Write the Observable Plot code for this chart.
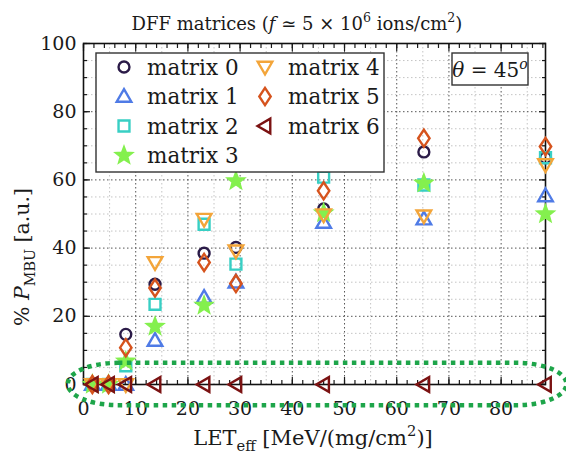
<!DOCTYPE html>
<html><head><meta charset="utf-8">
<script src="https://cdn.jsdelivr.net/npm/d3@7"></script>
<script src="https://cdn.jsdelivr.net/npm/@observablehq/plot@0.6"></script>
<style>body{margin:0;background:#fff}</style>
</head><body><div id="chart"></div>
<script>
// ---- data ----
const letValues = [1.7, 4.8, 8.1, 13.7, 23.1, 29.2, 46.0, 65.2, 88.5];
const matrixNames = ["matrix 0", "matrix 1", "matrix 2", "matrix 3", "matrix 4", "matrix 5", "matrix 6"];
const matrix0 = [0, 0, 14.7, 29.4, 38.5, 40.2, 51.5, 68.2, 66.5];
const matrix1 = [0, 0, 0, 12.9, 25.5, 30.0, 47.5, 48.5, 55.3];
const matrix2 = [0, 0, 5.5, 23.5, 47.0, 35.3, 60.8, 58.5, 66.5];
const matrix3 = [0, 0, 6.8, 17.0, 23.2, 59.7, 50.3, 59.0, 50.0];
const matrix4 = [0, 0, 0, 35.8, 48.5, 39.2, 49.8, 49.5, 64.5];
const matrix5 = [0, 0, 10.8, 28.3, 35.8, 29.6, 56.8, 72.2, 69.8];
const matrix6 = [0, 0, 0, 0, 0, 0, 0, 0, 0];
const xTicks = [0, 10, 20, 30, 40, 50, 60, 70, 80];
const yTicks = [0, 20, 40, 60, 80, 100];
const xMinorTicks = d3.range(0, 89, 2);
const yMinorTicks = d3.range(0, 101, 5);
const xMinorGrid = [5, 15, 25, 35, 45, 55, 65, 75, 85];
const yMinorGrid = yMinorTicks.filter(v => v % 20 !== 0);
const highlight = [{x1: -2.9, x2: 92.6, y1: -6.2, y2: 6.2}];
const thetaLabel = "45";

// ---- styles ----
const series = [matrix0, matrix1, matrix2, matrix3, matrix4, matrix5, matrix6];
const colors = ["#2b1b48", "#4f7be6", "#38cfc4", "#84f04e", "#f3a53a", "#d6531d", "#7b1212"];
const FONT = "DejaVu Serif";
const TXT = "#1a1a1a";

function poly(pts) {
  return {draw(ctx, size) {
    const s = Math.sqrt(size / Math.PI);
    ctx.moveTo(pts[0][0] * s, pts[0][1] * s);
    for (let k = 1; k < pts.length; ++k) ctx.lineTo(pts[k][0] * s, pts[k][1] * s);
    ctx.closePath();
  }};
}
const symCircle = {draw(ctx, size) { const s = Math.sqrt(size / Math.PI) * 0.88; ctx.moveTo(s, 0); ctx.arc(0, 0, s, 0, 2 * Math.PI); }};
const symUp = poly([[0, -1.2], [1.18, 0.85], [-1.18, 0.85]]);
const symSquare = poly([[-0.88, -0.88], [0.88, -0.88], [0.88, 0.88], [-0.88, 0.88]]);
const symStar = {draw(ctx, size) {
  const s = Math.sqrt(size / Math.PI) * 1.3, ri = s * 0.42;
  for (let k = 0; k < 10; ++k) {
    const a = -Math.PI / 2 + k * Math.PI / 5, rr = k % 2 ? ri : s;
    const px = rr * Math.cos(a), py = rr * Math.sin(a);
    k ? ctx.lineTo(px, py) : ctx.moveTo(px, py);
  }
  ctx.closePath();
}};
const symDown = poly([[0, 1.2], [1.18, -0.85], [-1.18, -0.85]]);
const symDiamond = poly([[0, -1.38], [0.92, 0], [0, 1.38], [-0.92, 0]]);
const symLeft = poly([[-1.2, 0], [0.85, -1.18], [0.85, 1.18]]);
const symbols = [symCircle, symUp, symSquare, symStar, symDown, symDiamond, symLeft];
const R = 6.2;
const SW = 2.4;

const dotMarks = series.map((vals, i) =>
  Plot.dot(letValues.map((x, j) => ({x, y: vals[j]})), {
    x: "x", y: "y", r: R, symbol: symbols[i], stroke: colors[i], strokeWidth: SW,
    fill: i === 3 ? colors[i] : "none"
  }));

const gridDash = "1.5,2.5";
const blank = () => "";
const plot = Plot.plot({
  width: 566, height: 453,
  marginLeft: 83, marginRight: 21, marginTop: 43, marginBottom: 69,
  x: {domain: [0, 88.5]},
  y: {domain: [0, 100]},
  style: {fontFamily: FONT, fontSize: "19px", color: TXT, background: "white"},
  marks: [
    Plot.gridX(xMinorGrid, {stroke: "#c4c4c4", strokeOpacity: 1, strokeDasharray: gridDash}),
    Plot.gridY(yMinorGrid, {stroke: "#c4c4c4", strokeOpacity: 1, strokeDasharray: gridDash}),
    Plot.gridX(xTicks, {stroke: "#555", strokeOpacity: 1, strokeDasharray: gridDash}),
    Plot.gridY(yTicks, {stroke: "#555", strokeOpacity: 1, strokeDasharray: gridDash}),
    Plot.axisX(xTicks, {anchor: "bottom", tickSize: 0, tickPadding: 17, label: null}),
    Plot.axisY(yTicks, {anchor: "left", tickSize: 0, tickPadding: 7, label: null}),
    Plot.axisX(xTicks, {anchor: "bottom", tickSize: -7, tickFormat: blank, label: null, strokeWidth: 1.2}),
    Plot.axisX(xMinorTicks, {anchor: "bottom", tickSize: -4, tickFormat: blank, label: null, strokeWidth: 1.2}),
    Plot.axisX(xTicks, {anchor: "top", tickSize: -7, tickFormat: blank, label: null, strokeWidth: 1.2}),
    Plot.axisX(xMinorTicks, {anchor: "top", tickSize: -4, tickFormat: blank, label: null, strokeWidth: 1.2}),
    Plot.axisY(yTicks, {anchor: "left", tickSize: -7, tickFormat: blank, label: null, strokeWidth: 1.2}),
    Plot.axisY(yMinorTicks, {anchor: "left", tickSize: -4, tickFormat: blank, label: null, strokeWidth: 1.2}),
    Plot.axisY(yTicks, {anchor: "right", tickSize: -7, tickFormat: blank, label: null, strokeWidth: 1.2}),
    Plot.axisY(yMinorTicks, {anchor: "right", tickSize: -4, tickFormat: blank, label: null, strokeWidth: 1.2}),
    Plot.frame({stroke: "#111", strokeWidth: 1.6}),
    ...dotMarks,
    Plot.rect(highlight, {x1: "x1", x2: "x2", y1: "y1", y2: "y2", rx: 50, ry: 21,
      fill: "none", stroke: "#1ea54a", strokeWidth: 4.5, strokeDasharray: "4.5,4.5"})
  ]
});

// ---- rich text & decorations ----
const svg = d3.select(plot);
function addRich(x, y, size, parts, anchor = "middle", transform = null) {
  const t = svg.append("text").attr("x", x).attr("y", y).attr("font-size", size)
    .attr("text-anchor", anchor).attr("font-family", FONT).attr("fill", TXT);
  if (transform) t.attr("transform", transform);
  let shift = 0;
  for (const p of parts) {
    const ts = t.append("tspan").text(p.t);
    let target = 0, fs = size;
    if (p.sub) { target = size * 0.3; fs = size * 0.7; }
    if (p.sup) { target = -size * 0.42; fs = size * 0.7; }
    ts.attr("dy", target - shift).attr("font-size", fs);
    if (p.italic) ts.attr("font-style", "italic");
    shift = target;
  }
  return t;
}
// title
addRich(297, 30, 18, [
  {t: "DFF matrices ("}, {t: "f", italic: true}, {t: " ≃ 5 × 10"}, {t: "6", sup: true},
  {t: " ions/cm"}, {t: "2", sup: true}, {t: ")"}
]);
// x label
addRich(313, 445, 21, [
  {t: "LET"}, {t: "eff", sub: true}, {t: " [MeV/(mg/cm"}, {t: "2", sup: true}, {t: ")]"}
]);
// y label
addRich(0, 0, 20.5, [
  {t: "% "}, {t: "P", italic: true}, {t: "MBU", sub: true}, {t: " [a.u.]"}
], "middle", "translate(29,257) rotate(-90)");

// legend
const lg = svg.append("g");
lg.append("rect").attr("x", 96).attr("y", 53).attr("width", 288).attr("height", 119)
  .attr("fill", "white").attr("stroke", "#333").attr("stroke-width", 1.4);
matrixNames.forEach((name, i) => {
  const col = i < 4 ? 0 : 1, row = i < 4 ? i : i - 4;
  const sx = col ? 265 : 124, tx = col ? 288 : 147, cy = 67 + row * 29.5;
  lg.append("path").attr("transform", `translate(${sx},${cy})`)
    .attr("d", d3.symbol(symbols[i], Math.PI * R * R)())
    .attr("fill", i === 3 ? colors[i] : "none").attr("stroke", colors[i]).attr("stroke-width", SW);
  lg.append("text").attr("x", tx).attr("y", cy + 7.5).attr("font-family", FONT)
    .attr("text-anchor", "start")
    .attr("font-size", 21.5).attr("fill", TXT).text(name);
});

// theta box
svg.append("rect").attr("x", 452).attr("y", 53).attr("width", 76).attr("height", 32)
  .attr("fill", "white").attr("stroke", "#333").attr("stroke-width", 1.4);
addRich(490, 77, 20, [{t: "θ", italic: true}, {t: " = " + thetaLabel}, {t: "o", sup: true, italic: true}]);

document.getElementById("chart").appendChild(plot);
</script>
</body></html>
